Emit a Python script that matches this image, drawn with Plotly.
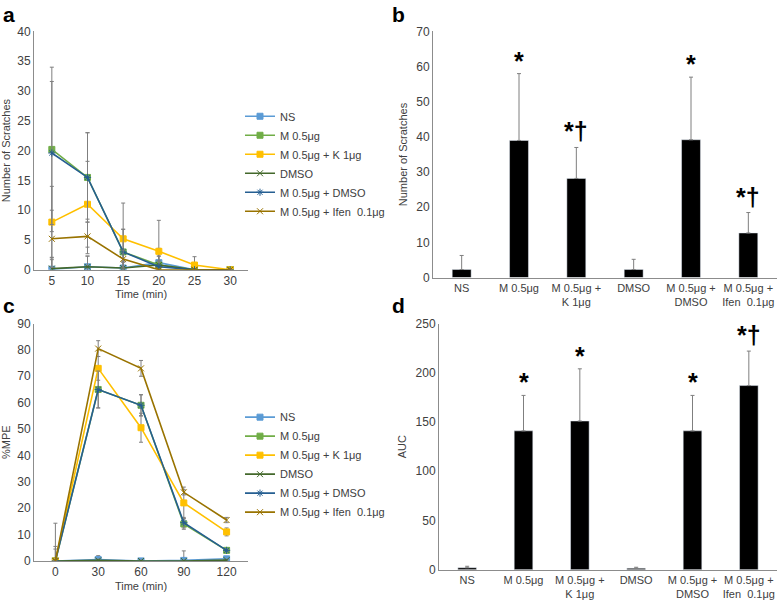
import plotly.graph_objects as go

# ---------------- data ----------------
series_names = ["NS", "M 0.5μg", "M 0.5μg + K 1μg", "DMSO", "M 0.5μg + DMSO", "M 0.5μg + Ifen  0.1μg"]
series_colors = ["#5B9BD5", "#70AD47", "#FFC000", "#43682B", "#255E91", "#997300"]
series_symbols = ["square", "square", "square", "x-thin-open", "asterisk-open", "x-thin-open"]

# panel a: scratches over time
time_a = ["5", "10", "15", "20", "25", "30"]
a_vals = {
    "NS":                    [0.1, 0.5, 0.3, 1.2, 0.0, 0.0],
    "M 0.5μg":               [20.2, 15.5, 3.0, 0.8, 0.0, 0.0],
    "M 0.5μg + K 1μg":       [8.0, 11.0, 5.2, 3.1, 0.8, 0.0],
    "DMSO":                  [0.2, 0.5, 0.3, 0.8, 0.0, 0.0],
    "M 0.5μg + DMSO":        [19.6, 15.5, 3.0, 0.5, 0.0, 0.0],
    "M 0.5μg + Ifen  0.1μg": [5.2, 5.6, 1.8, 0.0, 0.0, 0.0],
}
a_err = {
    "NS":                    [2.0, 1.8, 1.0, 2.4, 0.0, 0.0],
    "M 0.5μg":               [13.8, 7.5, 3.8, 1.5, 0.0, 0.0],
    "M 0.5μg + K 1μg":       [6.0, 7.2, 6.0, 5.2, 1.4, 0.0],
    "DMSO":                  [1.5, 1.8, 1.0, 1.5, 0.0, 0.0],
    "M 0.5μg + DMSO":        [12.0, 7.5, 3.8, 1.0, 0.0, 0.0],
    "M 0.5μg + Ifen  0.1μg": [4.8, 2.9, 1.5, 0.0, 0.0, 0.0],
}

# panel c: %MPE over time
time_c = ["0", "30", "60", "90", "120"]
c_vals = {
    "NS":                    [0.0, 0.5, 0.0, 0.2, 0.8],
    "M 0.5μg":               [0.0, 65.0, 59.0, 14.0, 4.0],
    "M 0.5μg + K 1μg":       [0.0, 73.0, 50.5, 22.0, 11.0],
    "DMSO":                  [0.0, 0.2, 0.0, 0.0, 0.3],
    "M 0.5μg + DMSO":        [0.0, 65.0, 59.0, 14.5, 4.0],
    "M 0.5μg + Ifen  0.1μg": [0.0, 80.5, 73.0, 26.0, 15.5],
}
c_err = {
    "NS":                    [5.5, 1.5, 0.5, 3.6, 0.5],
    "M 0.5μg":               [0.0, 7.0, 4.0, 2.0, 0.5],
    "M 0.5μg + K 1μg":       [0.0, 4.5, 5.5, 6.0, 1.5],
    "DMSO":                  [14.3, 0.5, 0.3, 0.3, 0.3],
    "M 0.5μg + DMSO":        [4.5, 7.0, 4.0, 2.0, 0.5],
    "M 0.5μg + Ifen  0.1μg": [0.0, 3.0, 3.0, 1.0, 1.0],
}

# panels b and d: bar charts
groups = ["NS", "M 0.5μg", "M 0.5μg +<br>K 1μg", "DMSO", "M 0.5μg +<br>DMSO", "M 0.5μg +<br>Ifen  0.1μg"]
b_vals = [2.3, 39.0, 28.2, 2.3, 39.2, 12.7]
b_err = [4.0, 19.0, 8.8, 2.9, 17.8, 5.8]
b_marks = ["", "*", "*†", "", "*", "*†"]
d_vals = [2.0, 141.0, 151.0, 1.5, 141.0, 187.0]
d_err = [1.5, 36.0, 53.0, 1.0, 36.0, 35.0]
d_marks = ["", "*", "*", "", "*", "*†"]

# ---------------- figure ----------------
FONT = "Liberation Sans, Arial, sans-serif"
W, H = 778, 607
fig = go.Figure()

def px_x(a, b):
    return [a / W, b / W]

def px_y(top, bottom):
    return [1 - bottom / H, 1 - top / H]

for name, col, sym in zip(series_names, series_colors, series_symbols):
    fig.add_trace(go.Scatter(
        x=time_a, y=a_vals[name], name=name, mode="lines+markers",
        line=dict(color=col, width=1.6),
        marker=dict(symbol=sym, size=6, color=col, line=dict(color=col, width=1)),
        error_y=dict(type="data", array=a_err[name], color="#7f7f7f", thickness=1, width=2),
        xaxis="x", yaxis="y", legend="legend"))

for name, col, sym in zip(series_names, series_colors, series_symbols):
    fig.add_trace(go.Scatter(
        x=time_c, y=c_vals[name], name=name, mode="lines+markers",
        line=dict(color=col, width=1.6),
        marker=dict(symbol=sym, size=6, color=col, line=dict(color=col, width=1)),
        error_y=dict(type="data", array=c_err[name], color="#7f7f7f", thickness=1, width=2),
        xaxis="x3", yaxis="y3", legend="legend2"))

fig.add_trace(go.Bar(x=groups, y=b_vals, marker=dict(color="black"), width=0.33,
                     error_y=dict(type="data", array=b_err, arrayminus=[0]*6, symmetric=False,
                                  color="#7f7f7f", thickness=1, width=2),
                     xaxis="x2", yaxis="y2", showlegend=False))
fig.add_trace(go.Bar(x=groups, y=d_vals, marker=dict(color="black"), width=0.33,
                     error_y=dict(type="data", array=d_err, arrayminus=[0]*6, symmetric=False,
                                  color="#7f7f7f", thickness=1, width=2),
                     xaxis="x4", yaxis="y4", showlegend=False))

annotations = []
def star_ann(g, v, e, m, xr, yr):
    return dict(x=g, y=v + e, xref=xr, yref=yr, text="<b>%s</b>" % m, showarrow=False,
                yanchor="bottom", yshift=-3 if m == "*" else 0,
                font=dict(size=25, color="black", family=FONT))

for g, v, e, m in zip(groups, b_vals, b_err, b_marks):
    if m:
        annotations.append(star_ann(g, v, e, m, "x2", "y2"))
for g, v, e, m in zip(groups, d_vals, d_err, d_marks):
    if m:
        annotations.append(star_ann(g, v, e, m, "x4", "y4"))

for lab, xx, yy in [("a", 1, -6), ("b", 390, -6), ("c", 1, 292), ("d", 390, 292)]:
    annotations.append(dict(x=xx / W, y=1 - yy / H, xref="paper", yref="paper", text="<b>%s</b>" % lab,
                            showarrow=False, xanchor="left", yanchor="top",
                            font=dict(size=21, color="black", family=FONT)))

axis_common = dict(showline=True, linecolor="#8c8c8c", linewidth=1, showgrid=False, zeroline=False,
                   ticks="", tickfont=dict(size=12, color="#404040", family=FONT))
xcat = dict(axis_common, type="category")
bar_tick = dict(size=11, color="#404040", family=FONT)

fig.update_layout(
    width=W, height=H, margin=dict(l=0, r=0, t=0, b=0),
    paper_bgcolor="white", plot_bgcolor="white",
    font=dict(family=FONT, color="#404040"),
    xaxis=dict(xcat, domain=px_x(34, 248), range=[-0.5, 5.5], anchor="y",
               title=dict(text="Time (min)", font=dict(size=11, color="#404040"), standoff=3)),
    yaxis=dict(axis_common, domain=px_y(25, 269), range=[0, 40], dtick=5, anchor="x",
               title=dict(text="Number of Scratches", font=dict(size=11, color="#404040"), standoff=4)),
    xaxis2=dict(xcat, domain=px_x(433, 777), range=[-0.5, 5.5], anchor="y2", tickfont=bar_tick),
    yaxis2=dict(axis_common, domain=px_y(25, 277), range=[0, 70], dtick=10, anchor="x2",
                title=dict(text="Number of Scratches", font=dict(size=11, color="#404040"), standoff=6)),
    xaxis3=dict(xcat, domain=px_x(34, 248), range=[-0.5, 4.5], anchor="y3",
                title=dict(text="Time (min)", font=dict(size=11, color="#404040"), standoff=3)),
    yaxis3=dict(axis_common, domain=px_y(324, 567), range=[0, 90], dtick=10, anchor="x3",
                title=dict(text="%MPE", font=dict(size=11, color="#404040"), standoff=4)),
    xaxis4=dict(xcat, domain=px_x(439, 777), range=[-0.5, 5.5], anchor="y4", tickfont=bar_tick),
    yaxis4=dict(axis_common, domain=px_y(324, 576), range=[0, 250], dtick=50, anchor="x4",
                title=dict(text="AUC", font=dict(size=11, color="#404040"), standoff=6)),
    legend=dict(x=240 / W, y=1 - 97 / H, xanchor="left", yanchor="top", bgcolor="rgba(0,0,0,0)",
                font=dict(size=11, color="#404040", family=FONT), itemwidth=30, tracegroupgap=0),
    legend2=dict(x=240 / W, y=1 - 405 / H, xanchor="left", yanchor="top", bgcolor="rgba(0,0,0,0)",
                 font=dict(size=11, color="#404040", family=FONT), itemwidth=30, tracegroupgap=0),
    annotations=annotations,
    bargap=0.5,
)

fig.write_html("out.html", config={"displayModeBar": False},
               post_script="document.body.style.margin='0';document.body.style.padding='0';")
